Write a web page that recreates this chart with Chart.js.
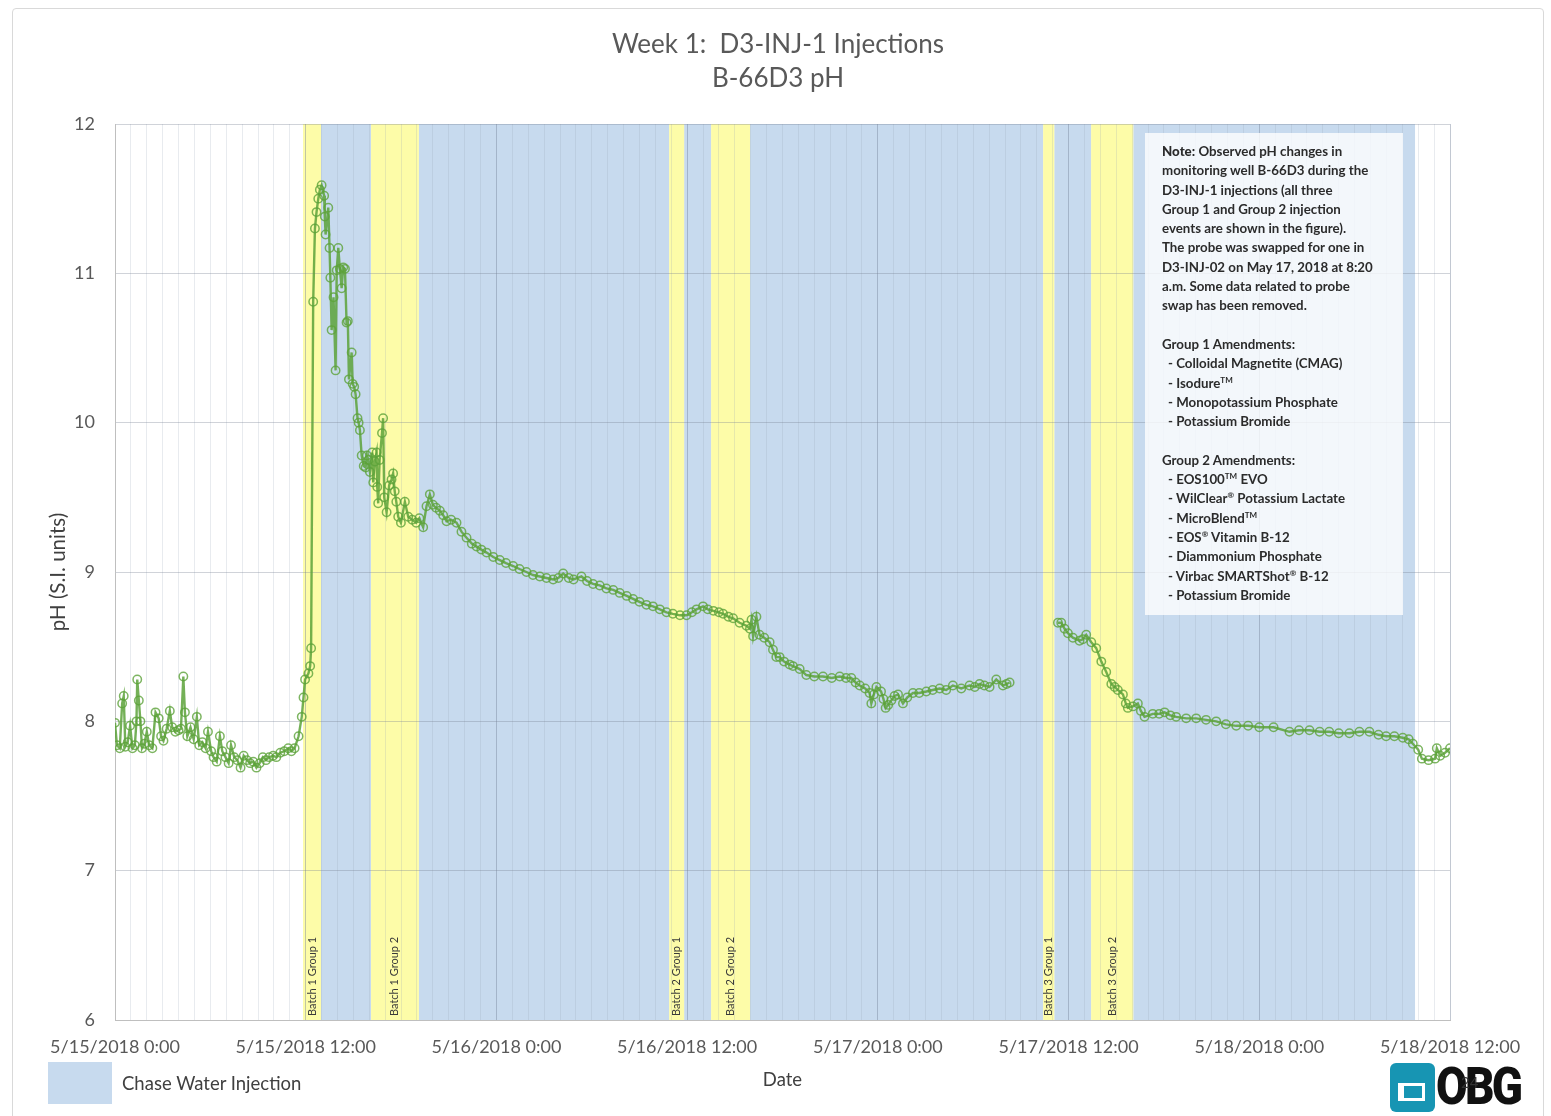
<!DOCTYPE html>
<html>
<head>
<meta charset="utf-8">
<title>B-66D3 pH</title>
<script src="https://cdn.jsdelivr.net/npm/chart.js@4.4.1/dist/chart.umd.min.js"></script>
<style>
    body { margin: 0; background: #fff; font-family: Lato, "Open Sans", sans-serif; }
    #wrap { position: relative; width: 1551px; height: 1116px; overflow: hidden; }
    #frame { position: absolute; left: 12px; top: 8px; width: 1530px; height: 1130px; border: 1px solid #d9d9d9; border-radius: 4px; }
    #chartPh { position: absolute; left: 0; top: 0; }
    .title { position: absolute; left: 0; width: 1556px; text-align: center; color: #595959; font-size: 26px; }
    .note {
        position: absolute; left: 1145px; top: 133px; width: 258px; height: 482px;
        background: rgba(255, 255, 255, 0.78); box-sizing: border-box; padding: 9px 0 0 17px;
        font-size: 13.3px; line-height: 19.3px; color: #2b2b2b; font-weight: 700; white-space: nowrap;
    }
    .note .ind { padding-left: 6px; }
    .note sup { font-size: 8px; line-height: 0; vertical-align: 5px; }
    .legend-box { position: absolute; left: 48px; top: 1062px; width: 64px; height: 42px; background: #c7daee; }
    .legend-text { position: absolute; left: 122px; top: 1072px; font-size: 18.5px; color: #404040; }
    .logo-icon { position: absolute; left: 1390px; top: 1063px; width: 45px; height: 49px; background: #1795b3; border-radius: 6px; }
    .logo-icon::after { content: ""; position: absolute; left: 8px; top: 20px; width: 18px; height: 12px; border: 3px solid #fff; border-left-width: 6px; }
    .logo-text { position: absolute; left: 1436px; top: 1056px; font-family: Roboto, sans-serif; font-weight: 900; font-size: 52px; color: #111; letter-spacing: -3px; transform: scaleX(0.88); transform-origin: left top; }
    .page-no { position: absolute; left: 1461px; top: 1073px; font-size: 15px; color: #333; }
</style>
</head>
<body>
<div id="wrap">
    <div id="frame"></div>
    <canvas id="chartPh" width="1551" height="1116"></canvas>
    <div class="title" style="top: 27px;">Week 1:&nbsp; D3-INJ-1 Injections</div>
    <div class="title" style="top: 61px;">B-66D3 pH</div>
    <div class="note">
        <b style="font-weight:900">Note:</b> Observed pH changes in<br>
        monitoring well B-66D3 during the<br>
        D3-INJ-1 injections (all three<br>
        Group 1 and Group 2 injection<br>
        events are shown in the figure).<br>
        The probe was swapped for one in<br>
        D3-INJ-02 on May 17, 2018 at 8:20<br>
        a.m. Some data related to probe<br>
        swap has been removed.<br>
        <br>
        Group 1 Amendments:<br>
        <span class="ind">- Colloidal Magnetite (CMAG)</span><br>
        <span class="ind">- Isodure<sup>TM</sup></span><br>
        <span class="ind">- Monopotassium Phosphate</span><br>
        <span class="ind">- Potassium Bromide</span><br>
        <br>
        Group 2 Amendments:<br>
        <span class="ind">- EOS100<sup>TM</sup> EVO</span><br>
        <span class="ind">- WilClear<sup>®</sup> Potassium Lactate</span><br>
        <span class="ind">- MicroBlend<sup>TM</sup></span><br>
        <span class="ind">- EOS<sup>®</sup> Vitamin B-12</span><br>
        <span class="ind">- Diammonium Phosphate</span><br>
        <span class="ind">- Virbac SMARTShot<sup>®</sup> B-12</span><br>
        <span class="ind">- Potassium Bromide</span>
    </div>
    <div class="legend-box"></div>
    <div class="legend-text">Chase Water Injection</div>
    <div class="logo-icon"></div>
    <div class="logo-text">OBG</div>
    <div class="page-no">24</div>
</div>
<script>
// hours since 5/15/2018 0:00
const dateTicks = ['5/15/2018 0:00', '5/15/2018 12:00', '5/16/2018 0:00', '5/16/2018 12:00',
    '5/17/2018 0:00', '5/17/2018 12:00', '5/18/2018 0:00', '5/18/2018 12:00'];

const hours = [
    0.00, 0.12, 0.30, 0.45, 0.55, 0.65, 0.80, 0.95, 1.10, 1.25, 1.35, 1.40, 1.50, 1.60, 1.70, 1.85,
    2.00, 2.15, 2.35, 2.55, 2.75, 2.90, 3.05, 3.25, 3.45, 3.60, 3.80, 4.00, 4.15, 4.30, 4.40, 4.55,
    4.75, 4.95, 5.15, 5.30, 5.50, 5.70, 5.85, 6.05, 6.20, 6.40, 6.60, 6.75, 6.95, 7.15, 7.30, 7.50,
    7.70, 7.90, 8.10, 8.30, 8.50, 8.70, 8.90, 9.10, 9.30, 9.50, 9.70, 9.95, 10.15, 10.40, 10.65, 10.90,
    11.10, 11.30, 11.55, 11.75, 11.86, 11.96, 12.17, 12.28, 12.34, 12.47, 12.58, 12.68, 12.79, 12.89, 13.00,
    13.16, 13.20, 13.25, 13.42, 13.50, 13.55, 13.63, 13.75, 13.88, 13.95, 14.05, 14.15, 14.26, 14.36, 14.47,
    14.57, 14.65, 14.72, 14.89, 14.95, 15.05, 15.14, 15.26, 15.33, 15.41, 15.52, 15.65, 15.77, 15.85, 15.95,
    16.04, 16.18, 16.25, 16.35, 16.46, 16.50, 16.56, 16.65, 16.80, 16.87, 16.94, 17.09, 17.25, 17.40, 17.50,
    17.60, 17.70, 17.82, 17.99, 18.24, 18.45, 18.70, 18.95, 19.15, 19.39, 19.60, 19.81, 20.00, 20.20, 20.44,
    20.65, 20.86, 21.15, 21.49, 21.80, 22.12, 22.45, 22.75, 23.05, 23.38, 23.80, 24.21, 24.60, 25.05, 25.45,
    25.89, 26.30, 26.73, 27.15, 27.57, 27.90, 28.20, 28.55, 28.85, 29.35, 29.70, 30.08, 30.50, 30.92, 31.35,
    31.76, 32.20, 32.60, 33.00, 33.44, 33.85, 34.28, 34.70, 35.10, 35.55, 35.96, 36.30, 36.59, 37.00, 37.30,
    37.65, 38.00, 38.26, 38.60, 38.89, 39.30, 39.73, 39.95, 40.05, 40.15, 40.36, 40.55, 40.85, 41.19, 41.40,
    41.61, 41.82, 42.10, 42.45, 42.66, 43.08, 43.50, 44.00, 44.55, 45.10, 45.60, 46.00, 46.33, 46.60, 46.86,
    47.20, 47.48, 47.59, 47.75, 47.91, 48.20, 48.35, 48.49, 48.65, 48.85, 49.05, 49.27, 49.58, 49.85, 50.21,
    50.60, 51.05, 51.45, 51.89, 52.30, 52.72, 53.25, 53.77, 54.10, 54.40, 54.70, 55.03, 55.45, 55.87, 56.10,
    56.29,
    57.80,
    59.33, 59.54, 59.75, 59.96, 60.27, 60.69, 60.90, 61.11, 61.43, 61.74, 62.06, 62.37, 62.69, 62.90, 63.10,
    63.42, 63.60, 63.73, 64.05, 64.36, 64.55, 64.78, 65.30, 65.70, 66.04, 66.40, 66.77, 67.40, 68.03, 68.65,
    69.29, 69.90, 70.55, 71.30, 72.00, 72.90, 73.90, 74.50, 75.16, 75.80, 76.40, 77.00, 77.67, 78.30, 78.93,
    79.50, 79.98, 80.50, 81.03, 81.40, 81.66, 82.00, 82.23, 82.65, 83.06, 83.17, 83.38, 83.69, 84.00
];

const phValues = [
    7.99, 7.84, 7.82, 8.12, 8.17, 7.83, 7.86, 7.97, 7.82, 7.84, 8.00, 8.28, 8.14, 8.00, 7.82, 7.85,
    7.93, 7.84, 7.82, 8.06, 8.02, 7.90, 7.87, 7.95, 8.07, 7.96, 7.93, 7.94, 7.95, 8.30, 8.06, 7.90,
    7.96, 7.88, 8.03, 7.84, 7.86, 7.82, 7.93, 7.80, 7.76, 7.73, 7.90, 7.80, 7.76, 7.72, 7.84, 7.76,
    7.74, 7.69, 7.77, 7.74, 7.72, 7.73, 7.69, 7.72, 7.76, 7.74, 7.76, 7.77, 7.76, 7.79, 7.80, 7.82,
    7.80, 7.82, 7.90, 8.03, 8.16, 8.28, 8.32, 8.37, 8.49, 10.81, 11.30, 11.41, 11.50, 11.56, 11.59,
    11.52, 11.38, 11.26, 11.44, 11.17, 10.97, 10.62, 10.84, 10.35, 11.02, 11.17, 11.03, 10.90, 11.04, 11.03,
    10.67, 10.68, 10.29, 10.47, 10.26, 10.24, 10.19, 10.03, 10.00, 9.95, 9.78, 9.71, 9.70, 9.78, 9.75,
    9.67, 9.80, 9.60, 9.74, 9.80, 9.57, 9.46, 9.75, 9.93, 10.03, 9.50, 9.40, 9.58, 9.62, 9.66,
    9.54, 9.47, 9.37, 9.33, 9.47, 9.37, 9.35, 9.33, 9.36, 9.30, 9.44, 9.52, 9.45, 9.43, 9.41,
    9.38, 9.34, 9.35, 9.33, 9.27, 9.23, 9.19, 9.17, 9.15, 9.13, 9.10, 9.08, 9.06, 9.04, 9.02,
    9.00, 8.98, 8.97, 8.96, 8.95, 8.96, 8.99, 8.96, 8.95, 8.97, 8.94, 8.92, 8.91, 8.89, 8.88,
    8.86, 8.84, 8.82, 8.80, 8.78, 8.77, 8.75, 8.73, 8.72, 8.71, 8.71, 8.73, 8.75, 8.77, 8.75,
    8.74, 8.73, 8.72, 8.70, 8.69, 8.66, 8.64, 8.62, 8.68, 8.57, 8.70, 8.58, 8.56, 8.53, 8.48,
    8.43, 8.43, 8.40, 8.38, 8.37, 8.35, 8.31, 8.30, 8.30, 8.29, 8.30, 8.29, 8.29, 8.26, 8.24,
    8.22, 8.19, 8.12, 8.18, 8.23, 8.20, 8.15, 8.09, 8.11, 8.14, 8.17, 8.18, 8.12, 8.16, 8.19,
    8.19, 8.20, 8.21, 8.22, 8.21, 8.24, 8.22, 8.24, 8.23, 8.25, 8.24, 8.23, 8.28, 8.24, 8.25,
    8.26,
    null,
    8.66, 8.66, 8.62, 8.59, 8.56, 8.54, 8.55, 8.58, 8.53, 8.49, 8.40, 8.33, 8.25, 8.23, 8.21,
    8.18, 8.12, 8.09, 8.10, 8.12, 8.07, 8.03, 8.05, 8.05, 8.06, 8.04, 8.03, 8.02, 8.02, 8.01,
    8.00, 7.98, 7.97, 7.97, 7.96, 7.96, 7.93, 7.94, 7.94, 7.93, 7.93, 7.92, 7.92, 7.93, 7.93,
    7.91, 7.90, 7.90, 7.89, 7.88, 7.85, 7.81, 7.75, 7.74, 7.75, 7.82, 7.77, 7.79, 7.82
];

// injection windows (hours)
const batchLabels = ['Batch 1 Group 1', 'Batch 1 Group 2', 'Batch 2 Group 1', 'Batch 2 Group 2', 'Batch 3 Group 1', 'Batch 3 Group 2'];
const batchStart = [11.83, 16.11, 34.87, 37.51, 58.40, 61.42];
const batchEnd = [12.96, 19.12, 35.81, 39.96, 59.10, 64.07];
const chaseStart = [12.96, 19.12, 35.81, 39.96, 59.10, 64.07];
const chaseEnd = [16.11, 34.87, 37.51, 58.40, 61.42, 81.80];

const BLUE = '#c7daee';
const YELLOW = '#fdfca8';

const bandsPlugin = {
    id: 'bands',
    beforeDraw(chart) {
        const {ctx, chartArea, scales} = chart;
        const x = scales.x;
        ctx.save();
        const fillBand = (s, e, color) => {
            const x0 = x.getPixelForValue(s);
            const x1 = x.getPixelForValue(e);
            ctx.fillStyle = color;
            ctx.fillRect(x0, chartArea.top, x1 - x0, chartArea.bottom - chartArea.top);
        };
        chaseStart.forEach((s, i) => fillBand(s, chaseEnd[i], BLUE));
        batchStart.forEach((s, i) => fillBand(s, batchEnd[i], YELLOW));
        ctx.restore();
    },
    beforeDatasetsDraw(chart) {
        const {ctx, chartArea, scales} = chart;
        ctx.save();
        ctx.font = '11px Lato, "Open Sans", sans-serif';
        ctx.fillStyle = '#3a3a3a';
        ctx.textAlign = 'left';
        ctx.textBaseline = 'middle';
        batchLabels.forEach((label, i) => {
            const cx = scales.x.getPixelForValue((batchStart[i] + batchEnd[i]) / 2);
            ctx.save();
            ctx.translate(cx, chartArea.bottom - 4);
            ctx.rotate(-Math.PI / 2);
            ctx.fillText(label, 0, 0);
            ctx.restore();
        });
        ctx.restore();
    }
};

Chart.defaults.font.family = 'Lato, "Open Sans", sans-serif';
Chart.defaults.color = '#595959';

const points = hours.map((h, i) => ({x: h, y: phValues[i]}));

new Chart(document.getElementById('chartPh').getContext('2d'), {
    type: 'line',
    data: {
        datasets: [{
            label: 'pH',
            data: points,
            borderColor: 'rgba(92, 162, 58, 0.85)',
            borderWidth: 2.4,
            pointRadius: 4.2,
            pointBorderWidth: 1.5,
            pointBorderColor: 'rgba(92, 162, 58, 0.8)',
            pointBackgroundColor: 'rgba(0, 0, 0, 0)',
            tension: 0,
            spanGaps: false
        }]
    },
    options: {
        responsive: false,
        animation: false,
        devicePixelRatio: 1,
        layout: {padding: {top: 124, right: 101, bottom: 0, left: 0}},
        plugins: {
            legend: {display: false},
            tooltip: {enabled: false}
        },
        scales: {
            x: {
                type: 'linear',
                min: 0,
                max: 84,
                afterFit: scale => { scale.height = 96; },
                ticks: {
                    stepSize: 1,
                    autoSkip: false,
                    maxRotation: 0,
                    minRotation: 0,
                    padding: 16,
                    font: {size: 18},
                    callback: value => value % 12 === 0 ? dateTicks[value / 12] : ''
                },
                grid: {
                    drawTicks: false,
                    color: c => c.tick && c.tick.value % 12 === 0 ? 'rgba(120, 132, 155, 0.45)' : 'rgba(150, 162, 180, 0.22)',
                    lineWidth: 1
                },
                border: {color: '#bfbfbf'},
                title: {
                    display: true,
                    text: 'Date',
                    color: '#404040',
                    font: {size: 18.5},
                    padding: {top: 0, bottom: 25}
                }
            },
            y: {
                min: 6,
                max: 12,
                afterFit: scale => { scale.width = 115; },
                ticks: {
                    stepSize: 1,
                    padding: 20,
                    font: {size: 18}
                },
                grid: {
                    drawTicks: false,
                    color: 'rgba(120, 128, 145, 0.35)'
                },
                border: {color: '#bfbfbf'},
                title: {
                    display: true,
                    text: 'pH (S.I. units)',
                    color: '#404040',
                    font: {size: 20.5},
                    padding: {top: 46, bottom: 0}
                }
            }
        }
    },
    plugins: [bandsPlugin]
});
</script>
</body>
</html>
